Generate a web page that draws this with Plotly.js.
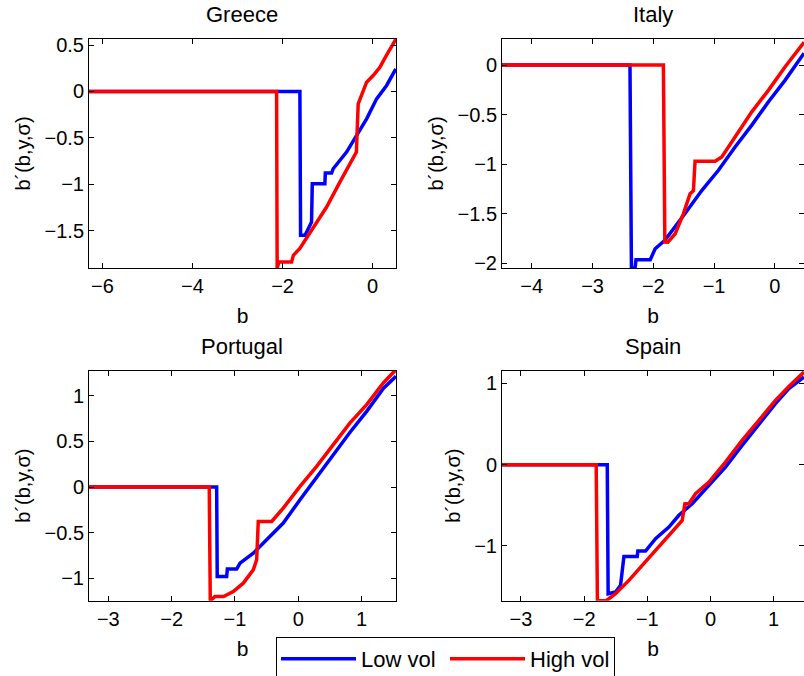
<!DOCTYPE html>
<html>
<head>
<meta charset="utf-8">
<script src="https://cdn.plot.ly/plotly-3.0.1.min.js"></script>
<style>html,body{margin:0;padding:0;background:#fff;overflow:hidden}</style>
</head>
<body>
<div id="chart" style="width:804px;height:676px"></div>
<script>
// ---- data ----
const countries = ["Greece", "Italy", "Portugal", "Spain"];
const seriesNames = ["Low vol", "High vol"];

const greeceLowX  = [-6.3, -1.615, -1.6, -1.5, -1.356, -1.34, -1.06, -1.05, -0.91, -0.876, -0.578, -0.356, -0.133, 0.089, 0.311, 0.496, 0.52];
const greeceLowY  = [0, 0, -1.548, -1.548, -1.405, -0.993, -0.993, -0.878, -0.878, -0.832, -0.652, -0.473, -0.294, -0.079, 0.065, 0.226, 0.24];
const greeceHighX = [-6.3, -2.133, -2.12, -2.08, -1.8, -1.76, -1.616, -1.32, -1.022, -0.727, -0.504, -0.36, -0.32, -0.276, -0.133, 0.013, 0.162, 0.304, 0.496, 0.52];
const greeceHighY = [0, 0, -1.9, -1.835, -1.835, -1.763, -1.69, -1.459, -1.244, -0.975, -0.778, -0.652, -0.133, -0.079, 0.1, 0.172, 0.261, 0.387, 0.548, 0.565];

const italyLowX  = [-4.49, -2.384, -2.36, -2.3, -2.285, -2.05, -1.97, -1.81, -1.478, -1.2, -0.928, -0.654, -0.379, -0.104, 0.17, 0.48];
const italyLowY  = [0, 0, -2.05, -2.05, -1.967, -1.967, -1.855, -1.77, -1.5, -1.265, -1.063, -0.827, -0.607, -0.371, -0.152, 0.12];
const italyHighX = [-4.49, -1.834, -1.81, -1.76, -1.64, -1.504, -1.395, -1.34, -1.313, -0.983, -0.873, -0.654, -0.379, -0.104, 0.17, 0.48];
const italyHighY = [0, 0, -1.788, -1.79, -1.704, -1.5, -1.3, -1.27, -0.972, -0.972, -0.928, -0.726, -0.473, -0.253, -0.017, 0.23];

const portugalLowX  = [-3.305, -1.289, -1.28, -1.131, -1.12, -0.973, -0.92, -0.71, -0.5, -0.237, 0.027, 0.29, 0.553, 0.817, 1.08, 1.343, 1.543];
const portugalLowY  = [0, 0, -0.98, -0.98, -0.899, -0.899, -0.833, -0.724, -0.578, -0.395, -0.139, 0.11, 0.354, 0.6, 0.829, 1.08, 1.213];
const portugalHighX = [-3.305, -1.406, -1.39, -1.316, -1.18, -1.027, -0.869, -0.711, -0.657, -0.632, -0.42, -0.237, 0.027, 0.29, 0.553, 0.817, 1.08, 1.343, 1.543];
const portugalHighY = [0, 0, -1.245, -1.2, -1.2, -1.145, -1.053, -0.907, -0.797, -0.377, -0.377, -0.23, 0.007, 0.226, 0.464, 0.702, 0.902, 1.14, 1.286];

const spainLowX  = [-3.3, -1.634, -1.62, -1.503, -1.424, -1.37, -1.16, -1.15, -1.028, -0.87, -0.658, -0.5, -0.29, -0.025, 0.237, 0.5, 0.766, 1.028, 1.24, 1.48];
const spainLowY  = [0, 0, -1.587, -1.567, -1.485, -1.128, -1.128, -1.063, -1.063, -0.91, -0.767, -0.623, -0.48, -0.255, -0.03, 0.237, 0.504, 0.75, 0.935, 1.078];
const spainHighX = [-3.3, -1.809, -1.79, -1.65, -1.503, -1.291, -1.081, -0.87, -0.658, -0.448, -0.405, -0.342, -0.237, -0.025, 0.237, 0.5, 0.766, 1.028, 1.24, 1.48];
const spainHighY = [0, 0, -1.673, -1.673, -1.587, -1.423, -1.239, -1.054, -0.87, -0.685, -0.48, -0.48, -0.357, -0.214, 0.032, 0.299, 0.545, 0.791, 0.96, 1.139];

const xTicks = [[-6, -4, -2, 0], [-4, -3, -2, -1, 0], [-3, -2, -1, 0, 1], [-3, -2, -1, 0, 1]];
const yTicks = [[-1.5, -1, -0.5, 0, 0.5], [-2, -1.5, -1, -0.5, 0], [-1, -0.5, 0, 0.5, 1], [-1, 0, 1]];
const xRanges = [[-6.3, 0.52], [-4.49, 0.48], [-3.305, 1.543], [-3.3, 1.48]];
const yRanges = [[-1.9, 0.565], [-2.05, 0.263], [-1.245, 1.274], [-1.673, 1.155]];
const xLabel = "b";
const yLabel = "b´(b,y,σ)";

// ---- build ----
const lowData  = [[greeceLowX, greeceLowY], [italyLowX, italyLowY], [portugalLowX, portugalLowY], [spainLowX, spainLowY]];
const highData = [[greeceHighX, greeceHighY], [italyHighX, italyHighY], [portugalHighX, portugalHighY], [spainHighX, spainHighY]];

const FONT = "Liberation Sans, Arial, Helvetica, sans-serif";
const W = 804, H = 676;
const xDom = [[89 / W, 396 / W], [502 / W, 1]];
const yDom = [[1 - 268 / H, 1 - 39 / H], [1 - 600.7 / H, 1 - 370.7 / H]];

const traces = [];
const layout = {
  width: W, height: H,
  margin: {l: 0, r: 0, t: 0, b: 0, autoexpand: false},
  paper_bgcolor: "#fff", plot_bgcolor: "#fff",
  font: {family: FONT, size: 20, color: "#000"},
  showlegend: true,
  legend: {
    orientation: "h", x: 276 / W, y: 1 - 637 / H, xanchor: "left", yanchor: "top",
    bordercolor: "#000", borderwidth: 1, bgcolor: "#fff",
    itemwidth: 75, entrywidth: 79, entrywidthmode: "pixels",
    font: {family: FONT, size: 22, color: "#000"}
  },
  annotations: []
};

for (let i = 0; i < 4; i++) {
  const col = i % 2, row = Math.floor(i / 2);
  const ax = i === 0 ? "" : String(i + 1);
  traces.push({
    x: lowData[i][0], y: lowData[i][1], type: "scatter", mode: "lines",
    name: seriesNames[0], legendgroup: "low", showlegend: i === 0,
    line: {color: "#0000ff", width: 3.5},
    xaxis: "x" + ax, yaxis: "y" + ax
  });
  traces.push({
    x: highData[i][0], y: highData[i][1], type: "scatter", mode: "lines",
    name: seriesNames[1], legendgroup: "high", showlegend: i === 0,
    line: {color: "#ff0000", width: 3.5},
    xaxis: "x" + ax, yaxis: "y" + ax
  });
  const common = {
    showline: true, linecolor: "#000", linewidth: 1, mirror: "ticks",
    ticks: "inside", ticklen: 5, tickcolor: "#000", tickwidth: 1,
    showgrid: false, zeroline: false, fixedrange: true, automargin: false,
    tickfont: {family: FONT, size: 20, color: "#000"}
  };
  layout["xaxis" + ax] = Object.assign({}, common, {
    domain: xDom[col], range: xRanges[i], tickvals: xTicks[i],
    anchor: "y" + ax,
    title: {text: xLabel, font: {family: FONT, size: 21, color: "#000"}, standoff: 12}
  });
  layout["yaxis" + ax] = Object.assign({}, common, {
    domain: yDom[row], range: yRanges[i], tickvals: yTicks[i],
    anchor: "x" + ax,
    title: {text: yLabel, font: {family: FONT, size: 20, color: "#000"}, standoff: 8}
  });
  layout.annotations.push({
    text: countries[i], xref: "paper", yref: "paper",
    x: (xDom[col][0] + xDom[col][1]) / 2,
    y: row === 0 ? 1 - 15 / H : 1 - 346.7 / H,
    xanchor: "center", yanchor: "middle", showarrow: false,
    font: {family: FONT, size: 22, color: "#000"}
  });
}

Plotly.newPlot("chart", traces, layout, {displayModeBar: false, staticPlot: true});
</script>
</body>
</html>
